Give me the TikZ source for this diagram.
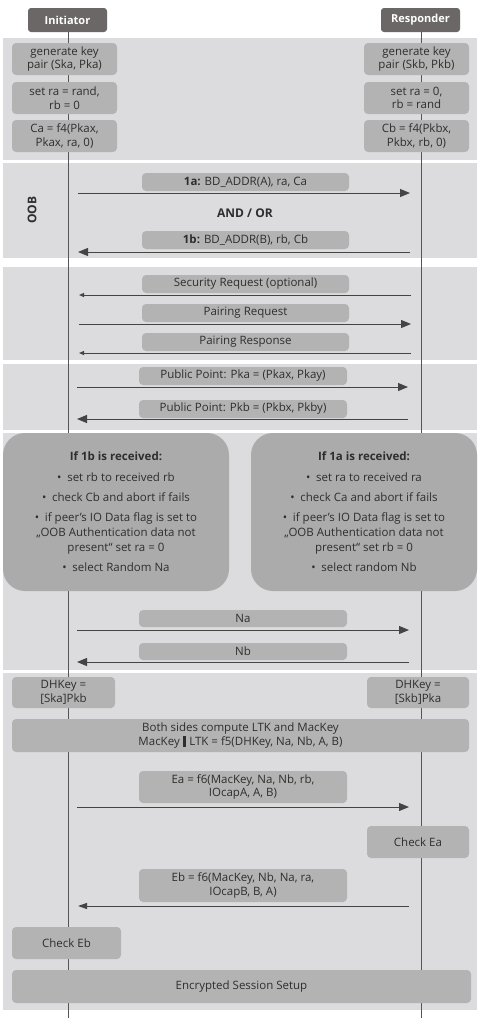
\documentclass[tikz,border=0pt]{standalone}
\usepackage{fontspec}
\setmainfont{Open Sans}
\usetikzlibrary{arrows.meta}
\definecolor{bandc}{HTML}{DCDCDE}
\definecolor{boxc}{HTML}{B3B3B3}
\definecolor{bigc}{HTML}{ABABAB}
\definecolor{headc}{HTML}{6B6767}
\definecolor{txtc}{HTML}{2E2E2E}
\definecolor{linec}{HTML}{555555}
\definecolor{arrc}{HTML}{444444}
\begin{document}
\begin{tikzpicture}[x=1pt,y=-1pt,
  bandbg/.style={fill=bandc,draw=none},
  headbox/.style={fill=headc,rounded corners=3pt,text=white,font=\fontsize{11}{13}\selectfont\bfseries,minimum width=79pt,minimum height=24pt,inner sep=0pt},
  gbox/.style={fill=boxc,rounded corners=4pt,text=txtc,font=\fontsize{11.5}{13.5}\selectfont,align=center,inner sep=0pt},
  sidebox/.style={gbox,minimum width=105pt,minimum height=32pt},
  labbox/.style={gbox,minimum width=207pt,minimum height=18pt},
  bigbox/.style={fill=bigc,rounded corners=22pt,text=txtc,font=\fontsize{11.5}{15}\selectfont,align=center,inner sep=0pt,minimum width=226pt,minimum height=158pt},
  lifeline/.style={draw=linec,line width=0.9pt},
  msgbig/.style={draw=arrc,line width=1pt,-{Triangle[length=10pt,width=8pt]}},
  msgsmall/.style={draw=arrc,line width=1pt,-{Triangle[length=5pt,width=4pt]}},
  plain/.style={text=txtc,font=\fontsize{12}{14}\selectfont\bfseries,inner sep=0pt}
]
\useasboundingbox (0,0) rectangle (484,1018);
\fill[white] (0,0) rectangle (484,1018);
% bands
\fill[bandbg] (3,38) rectangle (477,160);
\fill[bandbg] (3,163) rectangle (477,258);
\fill[bandbg] (3,267) rectangle (477,360);
\fill[bandbg] (3,364) rectangle (477,430);
\fill[bandbg] (3,433) rectangle (477,670);
\fill[bandbg] (3,673) rectangle (477,1010);
% headers
\node[headbox] (init) at (67.5,20) {Initiator};
\node[headbox] (resp) at (420.5,20) {Responder};
\coordinate (initEnd) at (68,1018);
\coordinate (respEnd) at (421,1018);
\draw[lifeline] (init.south -| 68,0) -- (initEnd);
\draw[lifeline] (resp.south -| 421,0) -- (respEnd);
% band 1
\node[sidebox] (genA) at (64.5,59) {generate key\\pair (Ska, Pka)};
\node[sidebox] (setA) at (64.5,98) {set ra = rand,\\rb = 0};
\node[sidebox] (caA) at (64.5,136) {Ca = f4(Pkax,\\Pkax, ra, 0)};
\node[sidebox] (genB) at (416.5,59) {generate key\\pair (Skb, Pkb)};
\node[sidebox] (setB) at (416.5,98) {set ra = 0,\\rb = rand};
\node[sidebox] (cbB) at (416.5,136) {Cb = f4(Pkbx,\\Pkbx, rb, 0)};
% OOB band
\node[plain,rotate=90] (oob) at (32,210) {OOB};
\node[labbox] (l1a) at (245.5,182) {\textbf{1a:} BD\_ADDR(A), ra, Ca};
\coordinate (a1s) at (78,193); \coordinate (a1e) at (410,193);
\draw[msgbig] (a1s) -- (a1e);
\node[plain] (andor) at (245,213) {AND / OR};
\node[labbox] (l1b) at (245.5,240) {\textbf{1b:} BD\_ADDR(B), rb, Cb};
\coordinate (b1s) at (410,252); \coordinate (b1e) at (78,252);
\draw[msgbig] (b1s) -- (b1e);
% band 3
\node[labbox] (secreq) at (245.5,284) {Security Request (optional)};
\coordinate (srs) at (411,295); \coordinate (sre) at (79,295);
\draw[msgsmall] (srs) -- (sre);
\node[labbox] (preq) at (245.5,313) {Pairing Request};
\coordinate (pqs) at (79,324); \coordinate (pqe) at (411,324);
\draw[msgbig] (pqs) -- (pqe);
\node[labbox] (presp) at (245.5,342) {Pairing Response};
\coordinate (pps) at (411,353); \coordinate (ppe) at (79,353);
\draw[msgsmall] (pps) -- (ppe);
% band 4
\node[labbox,minimum width=208pt] (pka) at (243,376) {Public Point: Pka = (Pkax, Pkay)};
\coordinate (pkas) at (77,387); \coordinate (pkae) at (408,387);
\draw[msgbig] (pkas) -- (pkae);
\node[labbox,minimum width=208pt] (pkb) at (243,409) {Public Point: Pkb = (Pkbx, Pkby)};
\coordinate (pkbs) at (408,419); \coordinate (pkbe) at (77,419);
\draw[msgbig] (pkbs) -- (pkbe);
% band 5
\node[bigbox] (bigA) at (116,512) {\textbf{If 1b is received:}\\[6pt]
  •\enspace set rb to received rb\\[5pt]
  •\enspace check Cb and abort if fails\\[5pt]
  •\enspace if peer’s IO Data flag is set to\\
  „OOB Authentication data not\\
  present“ set ra = 0\\[5pt]
  •\enspace select Random Na};
\node[bigbox] (bigB) at (364,512) {\textbf{If 1a is received:}\\[6pt]
  •\enspace set ra to received ra\\[5pt]
  •\enspace check Ca and abort if fails\\[5pt]
  •\enspace if peer’s IO Data flag is set to\\
  „OOB Authentication data not\\
  present“ set rb = 0\\[5pt]
  •\enspace select random Nb};
\node[labbox,minimum width=208pt,minimum height=17pt] (na) at (243,618.5) {Na};
\coordinate (nas) at (77,630); \coordinate (nae) at (409,630);
\draw[msgbig] (nas) -- (nae);
\node[labbox,minimum width=208pt,minimum height=17pt] (nb) at (243,651.5) {Nb};
\coordinate (nbs) at (409,662); \coordinate (nbe) at (77,662);
\draw[msgbig] (nbs) -- (nbe);
% band 6
\node[sidebox,minimum width=103pt,minimum height=31pt] (dhA) at (63.5,692.5) {DHKey =\\{[}Ska{]}Pkb};
\node[sidebox,minimum width=102pt,minimum height=31pt] (dhB) at (418,692.5) {DHKey =\\{[}Skb{]}Pka};
\node[gbox,minimum width=457pt,minimum height=33pt] (both) at (240.5,735.5) {Both sides compute LTK and MacKey\\MacKey \rule[-1.5pt]{3.5pt}{11pt} LTK = f5(DHKey, Na, Nb, A, B)};
\node[gbox,minimum width=208pt,minimum height=32pt] (ea) at (243,787) {Ea = f6(MacKey, Na, Nb, rb,\\IOcapA, A, B)};
\coordinate (eas) at (77,807); \coordinate (eae) at (409,807);
\draw[msgbig] (eas) -- (eae);
\node[sidebox,minimum width=102pt] (chkEa) at (418,842) {Check Ea};
\node[gbox,minimum width=208pt,minimum height=33pt] (eb) at (243,885.5) {Eb = f6(MacKey, Nb, Na, ra,\\IOcapB, B, A)};
\coordinate (ebs) at (409,906); \coordinate (ebe) at (78,906);
\draw[draw=arrc,line width=1pt,-{Triangle[length=9pt,width=6pt]}] (ebs) -- (ebe);
\node[sidebox,minimum width=109pt] (chkEb) at (66.5,943) {Check Eb};
\node[gbox,minimum width=459pt,minimum height=33pt] (enc) at (241.5,986.5) {Encrypted Session Setup};
\end{tikzpicture}
\end{document}
